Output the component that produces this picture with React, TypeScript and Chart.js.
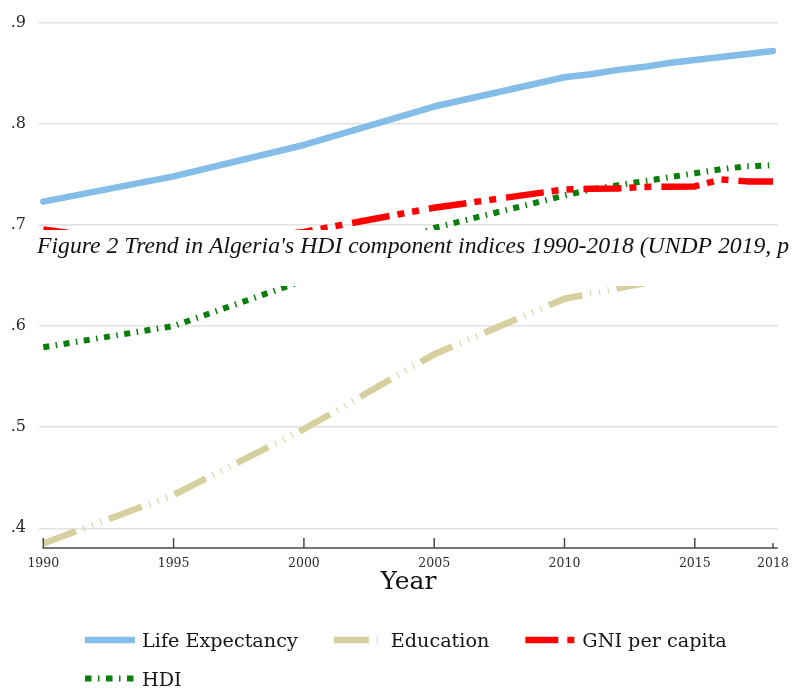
import React, { useEffect, useRef } from 'react';
import { Chart, registerables } from 'chart.js';

Chart.register(...registerables);

// ---------- data ----------
const years = [1990, 1995, 2000, 2005, 2010, 2011, 2012, 2013, 2014, 2015, 2016, 2017, 2018];
const lifeExpectancy = [0.723, 0.748, 0.779, 0.817, 0.846, 0.849, 0.853, 0.856, 0.86, 0.863, 0.866, 0.869, 0.872];
const education = [0.385, 0.433, 0.498, 0.572, 0.627, 0.632, 0.637, 0.642, 0.647, 0.651, 0.655, 0.659, 0.662];
const gniPerCapita = [0.6955, 0.677, 0.693, 0.717, 0.735, 0.7357, 0.736, 0.7375, 0.7378, 0.738, 0.745, 0.743, 0.743];
const hdi = [0.579, 0.6, 0.645, 0.697, 0.729, 0.735, 0.739, 0.743, 0.747, 0.751, 0.755, 0.758, 0.759];

const seriesLabels = ['Life Expectancy', 'Education', 'GNI per capita', 'HDI'];
const seriesValues = [lifeExpectancy, education, gniPerCapita, hdi];

const xTickYears = [1990, 1995, 2000, 2005, 2010, 2015, 2018];
const shortTickYears = [2018];
const yTickValues = [0.4, 0.5, 0.6, 0.7, 0.8, 0.9];
const xAxisTitle = 'Year';
const captionText = "Figure 2 Trend in Algeria's HDI component indices 1990-2018 (UNDP 2019, p";

// ---------- styles ----------
const seriesStyles = [
  { color: '#84bee8', width: 6.5, dash: [] as number[], legendDash: [] as number[], cap: 'round' },
  { color: '#d6d09f', width: 6.5, dash: [35, 8, 1, 8, 1, 8, 1, 8], legendDash: [35, 8, 1, 20], cap: 'butt' },
  { color: '#ff0000', width: 6.5, dash: [38, 8, 7, 8, 7, 10], legendDash: [33, 9, 7, 20], cap: 'butt' },
  { color: '#087f08', width: 6, dash: [6, 6.5, 1.5, 6.5], legendDash: [6.5, 6.5, 1.5, 6.5], cap: 'butt' },
];

const decorPlugin = {
  id: 'decor',
  afterDraw(chart: any) {
    const { ctx, chartArea, scales } = chart;
    const xs = scales.x;
    ctx.save();
    // x axis line + inward ticks
    const y0 = chartArea.bottom;
    ctx.strokeStyle = '#4a4a4a';
    ctx.lineWidth = 1.5;
    ctx.setLineDash([]);
    ctx.beginPath();
    ctx.moveTo(xs.getPixelForValue(xTickYears[0]) - 0.75, y0);
    ctx.lineTo(chartArea.right, y0);
    ctx.stroke();
    xTickYears.forEach((v) => {
      const px = xs.getPixelForValue(v);
      const len = shortTickYears.includes(v) ? 5 : 10;
      ctx.beginPath();
      ctx.moveTo(px, y0);
      ctx.lineTo(px, y0 - len);
      ctx.stroke();
    });

    // caption band overlay
    ctx.fillStyle = '#ffffff';
    ctx.fillRect(0, 230, chart.width, 56);
    ctx.fillStyle = '#111111';
    ctx.font = 'italic 23.7px "Liberation Serif"';
    ctx.textBaseline = 'alphabetic';
    ctx.textAlign = 'left';
    ctx.fillText(captionText, 37, 253);

    // legend
    ctx.font = '19.2px "DejaVu Serif"';
    const startX = 85;
    const sampleW = 50;
    const textGap = 7;
    const itemGap = 36;
    const rowH = 38.5;
    let x = startX;
    let base = 647;
    chart.data.datasets.forEach((ds: any) => {
      const tw = ctx.measureText(ds.label).width;
      const w = sampleW + textGap + tw;
      if (x > startX && x + w > chart.width - 10) {
        x = startX;
        base += rowH;
      }
      const cy = base - 7;
      ctx.beginPath();
      ctx.setLineDash(ds.legendDash || []);
      ctx.lineCap = 'butt';
      ctx.lineWidth = ds.borderWidth;
      ctx.strokeStyle = ds.borderColor;
      ctx.moveTo(x, cy);
      ctx.lineTo(x + sampleW, cy);
      ctx.stroke();
      ctx.setLineDash([]);
      ctx.fillStyle = '#151515';
      ctx.fillText(ds.label, x + sampleW + textGap, base);
      x += w + itemGap;
    });
    ctx.restore();
  },
};

export default function App() {
  const ref = useRef<HTMLCanvasElement>(null);
  useEffect(() => {
    const datasets = seriesLabels.map((label, i) => ({
      label,
      data: years.map((yr, j) => ({ x: yr, y: seriesValues[i][j] })),
      borderColor: seriesStyles[i].color,
      backgroundColor: seriesStyles[i].color,
      borderWidth: seriesStyles[i].width,
      borderDash: seriesStyles[i].dash,
      legendDash: seriesStyles[i].legendDash,
      borderCapStyle: seriesStyles[i].cap,
      borderJoinStyle: 'round',
      pointRadius: 0,
      tension: 0,
      fill: false,
    }));
    const chart = new Chart(ref.current as HTMLCanvasElement, {
      type: 'line',
      data: { datasets } as any,
      options: {
        responsive: false,
        animation: false,
        layout: { padding: { top: 20, right: 17, bottom: 93, left: 0 } },
        plugins: { legend: { display: false }, tooltip: { enabled: false } },
        scales: {
          x: {
            type: 'linear',
            min: 1989.835,
            max: 2018.185,
            grid: { display: false, drawTicks: false },
            border: { display: false },
            afterBuildTicks: (s: any) => {
              s.ticks = xTickYears.map((v) => ({ value: v }));
            },
            afterFit: (s: any) => {
              s.height = 50;
            },
            ticks: {
              callback: (v: any) => String(v),
              font: { family: 'DejaVu Serif', size: 12.5 },
              color: '#2a2a2a',
              padding: 8,
              maxRotation: 0,
              autoSkip: false,
            },
            title: {
              display: true,
              text: xAxisTitle,
              font: { family: 'DejaVu Serif', size: 25 },
              color: '#111111',
              padding: { top: 0, bottom: 1 },
            },
          },
          y: {
            min: 0.3805,
            max: 0.9,
            afterBuildTicks: (s: any) => {
              s.ticks = yTickValues.map((v) => ({ value: v }));
            },
            afterFit: (s: any) => {
              s.width = 39;
            },
            grid: { color: '#e2e2e2', lineWidth: 1.5, drawTicks: false },
            border: { display: false },
            ticks: {
              callback: (v: any) => Number(v).toFixed(1).replace(/^0/, ''),
              font: { family: 'DejaVu Serif', size: 16 },
              color: '#2a2a2a',
              padding: 13,
            },
          },
        },
      } as any,
      plugins: [decorPlugin],
    });
    return () => chart.destroy();
  }, []);
  return (
    <div style={{ position: 'absolute', left: 0, top: 0, width: 797, height: 691, background: '#ffffff' }}>
      <canvas ref={ref} width={797} height={691} style={{ display: 'block', width: 797, height: 691 }} />
    </div>
  );
}
